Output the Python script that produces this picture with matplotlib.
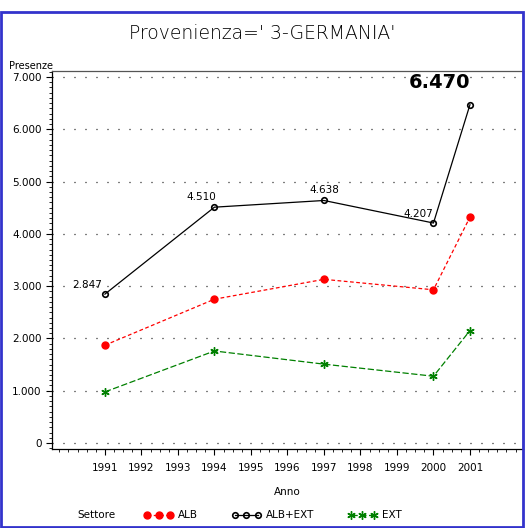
import matplotlib.pyplot as plt
from matplotlib.ticker import FuncFormatter, MultipleLocator
from matplotlib.patches import Rectangle

# data
anni = [1991, 1994, 1997, 2000, 2001]
alb = [1870, 2750, 3130, 2930, 4320]
alb_ext = [2847, 4510, 4638, 4207, 6470]
ext = [977, 1760, 1508, 1277, 2150]

def fmt_it(v, pos=None):
    return '{:,.0f}'.format(v).replace(',', '.')

fig = plt.figure(figsize=(5.25, 5.28), dpi=100)
ax = fig.add_axes([0.099, 0.1496, 0.897, 0.716])

ax.plot(anni, alb, color='red', linestyle=(0, (3, 2)), linewidth=0.9,
        marker='o', markersize=5, markerfacecolor='red', markeredgecolor='red', label='ALB')
ax.plot(anni, alb_ext, color='black', linestyle='-', linewidth=0.9,
        marker='o', markersize=4, markerfacecolor='none', markeredgecolor='black',
        markeredgewidth=1.2, label='ALB+EXT')
ax.plot(anni, ext, color='#008000', linestyle=(0, (5, 2)), linewidth=0.9,
        marker=(6, 2, 0), markersize=6, markeredgecolor='#008000', label='EXT')

# value labels on the total series (last one large and bold)
offsets = [(-2, 3, 'right'), (1, 4, 'right'), (0, 4, 'center'), (0, 3, 'right')]
for (xv, yv), (dx, dy, ha) in zip(zip(anni[:-1], alb_ext[:-1]), offsets):
    ax.annotate(fmt_it(yv), (xv, yv), xytext=(dx, dy), textcoords='offset points',
                ha=ha, va='bottom', fontsize=7.5, family='DejaVu Sans Condensed')
ax.annotate(fmt_it(alb_ext[-1]), (anni[-1], 7000), xytext=(-22, -4), textcoords='offset points',
            ha='center', va='center', fontsize=14, fontweight='bold',
            family='DejaVu Sans Condensed', annotation_clip=False)

ax.set_xlim(1989.55, 2002.45)
ax.set_ylim(-115, 7115)
ax.set_xticks(range(1991, 2002))
ax.xaxis.set_minor_locator(MultipleLocator(0.25))
ax.yaxis.set_major_locator(MultipleLocator(1000))
ax.yaxis.set_minor_locator(MultipleLocator(100))
ax.yaxis.set_major_formatter(FuncFormatter(fmt_it))
ax.tick_params(axis='both', which='major', labelsize=7.5, length=4, width=0.8, direction='out')
ax.tick_params(axis='both', which='minor', length=2, width=0.6, direction='out')
for lab in ax.get_xticklabels() + ax.get_yticklabels():
    lab.set_family('DejaVu Sans Condensed')
ax.tick_params(axis='x', pad=6)

for yv in range(0, 8000, 1000):
    ax.axhline(yv, color='black', linestyle=(0, (0.8, 8)), linewidth=0.9, zorder=0)

for s in ax.spines.values():
    s.set_linewidth(0.9)
ax.spines['top'].set_color('#555555')

fig.text(0.5, 0.937, "Provenienza=' 3-GERMANIA'", ha='center', va='center',
         fontsize=13.5, family='DejaVu Sans', fontweight='light', color='black')
fig.text(0.018, 0.875, 'Presenze', ha='left', va='center', fontsize=7,
         family='DejaVu Sans Condensed')
ax.set_xlabel('Anno', fontsize=7.5, family='DejaVu Sans Condensed', labelpad=10)

fig.text(0.147, 0.024, 'Settore', ha='left', va='center', fontsize=7.5,
         family='DejaVu Sans Condensed')
leg = fig.legend(loc='center', bbox_to_anchor=(0.52, 0.024), ncol=3, frameon=False,
                 numpoints=3, handlelength=2.8, columnspacing=3.2,
                 handletextpad=0.5, prop={'family': 'DejaVu Sans Condensed', 'size': 7.5})

fig.patches.append(Rectangle((0.002, 0.002), 0.994, 0.975, transform=fig.transFigure,
                             fill=False, edgecolor='#3333cc', linewidth=2))

fig.savefig('out.png', dpi=100)
